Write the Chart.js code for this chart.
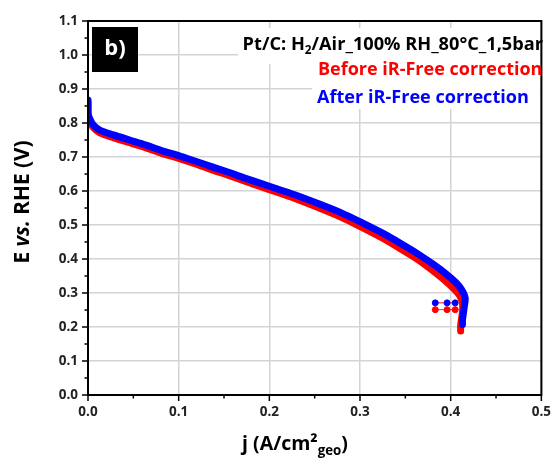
<!DOCTYPE html>
<html>
<head>
<meta charset="utf-8">
<script src="https://cdn.jsdelivr.net/npm/chart.js@4.4.0/dist/chart.umd.min.js"></script>
<style>
  body { margin: 0; background: #fff; }
  #wrap { width: 560px; height: 459px; }
</style>
</head>
<body>
<div id="wrap"><canvas id="myChart"></canvas></div>
<script>
// Pt/C H2/Air polarisation curve
const jAfter = [0, 0, 0.002, 0.006, 0.013, 0.028, 0.046, 0.064, 0.082, 0.1, 0.117, 0.137, 0.155, 0.173, 0.2, 0.228, 0.253, 0.28, 0.302, 0.325, 0.344, 0.365, 0.381, 0.395, 0.406, 0.412, 0.416, 0.415, 0.414, 0.413, 0.413];
const eAfter = [0.868, 0.83, 0.812, 0.794, 0.779, 0.765, 0.75, 0.735, 0.718, 0.704, 0.689, 0.671, 0.655, 0.638, 0.614, 0.589, 0.564, 0.535, 0.507, 0.476, 0.447, 0.413, 0.384, 0.356, 0.33, 0.31, 0.285, 0.26, 0.24, 0.22, 0.207];
const jBefore = [0, 0, 0.002, 0.006, 0.013, 0.028, 0.046, 0.064, 0.082, 0.1, 0.117, 0.137, 0.155, 0.173, 0.2, 0.228, 0.253, 0.28, 0.302, 0.325, 0.344, 0.365, 0.38, 0.393, 0.404, 0.41, 0.413, 0.413, 0.412, 0.411, 0.411];
const eBefore = [0.86, 0.822, 0.804, 0.786, 0.771, 0.757, 0.742, 0.727, 0.71, 0.696, 0.681, 0.662, 0.646, 0.629, 0.604, 0.578, 0.552, 0.522, 0.493, 0.461, 0.431, 0.396, 0.366, 0.338, 0.311, 0.292, 0.27, 0.245, 0.225, 0.205, 0.188];
// the short horizontal pieces near the end of the scan
const jStep = [0.383, 0.396, 0.405];
const eStepAfter = [0.271, 0.271, 0.271];
const eStepBefore = [0.251, 0.251, 0.251];

const xTicks = [0, 0.1, 0.2, 0.3, 0.4, 0.5];
const yTicks = [0, 0.1, 0.2, 0.3, 0.4, 0.5, 0.6, 0.7, 0.8, 0.9, 1.0, 1.1];

const BLUE = '#0000ff';
const RED = '#ff0000';
const FONT = '"Open Sans", "DejaVu Sans", sans-serif';

function toPoints(xs, ys) {
    return xs.map((x, i) => ({ x: x, y: ys[i] }));
}

// draws a row of text pieces (sub/superscripts, italics), sized to a target width
function drawParts(ctx, makeParts, size, x, y, align, target) {
    const measure = parts => {
        let w = 0;
        parts.forEach(p => { ctx.font = p.font; w += ctx.measureText(p.t).width; });
        return w;
    };
    let parts = makeParts(size);
    let total = measure(parts);
    if (target) {
        size = size * target / total;
        parts = makeParts(size);
        total = measure(parts);
    }
    let cx = align === 'right' ? x - total : (align === 'center' ? x - total / 2 : x);
    ctx.textAlign = 'left';
    ctx.textBaseline = 'middle';
    parts.forEach(p => {
        ctx.font = p.font;
        ctx.fillStyle = p.color || '#000';
        ctx.fillText(p.t, cx, y + (p.dy || 0));
        cx += ctx.measureText(p.t).width;
    });
}

const bold = s => 'bold ' + s.toFixed(1) + 'px ' + FONT;

const decor = {
    id: 'decor',
    beforeDraw(chart) {
        const ctx = chart.ctx;
        ctx.save();
        ctx.fillStyle = '#fff';
        ctx.fillRect(0, 0, chart.width, chart.height);
        ctx.restore();
    },
    afterDraw(chart) {
        const ctx = chart.ctx;
        const a = chart.chartArea;
        const x = chart.scales.x, y = chart.scales.y;
        ctx.save();

        // white patches behind the labels
        ctx.fillStyle = '#fff';
        ctx.fillRect(238, a.top + 7, a.right - 238 - 1, 36);
        ctx.fillRect(312, a.top + 38, a.right - 312 - 1, 50);

        // frame
        ctx.strokeStyle = '#000';
        ctx.lineWidth = 2;
        ctx.strokeRect(a.left, a.top, a.right - a.left, a.bottom - a.top);

        // ticks, major + minor, pointing out
        ctx.lineWidth = 1.5;
        for (let i = 0; i <= 10; i++) {
            const px = x.getPixelForValue(i * 0.05);
            const len = i % 2 === 0 ? 6 : 3.5;
            ctx.beginPath();
            ctx.moveTo(px, a.bottom);
            ctx.lineTo(px, a.bottom + len);
            ctx.stroke();
        }
        for (let i = 0; i <= 22; i++) {
            const py = y.getPixelForValue(i * 0.05);
            const len = i % 2 === 0 ? 6 : 3.5;
            ctx.beginPath();
            ctx.moveTo(a.left, py);
            ctx.lineTo(a.left - len, py);
            ctx.stroke();
        }

        // panel tag
        ctx.fillStyle = '#000';
        ctx.fillRect(92, 27, 46, 45);
        ctx.fillStyle = '#fff';
        ctx.font = 'bold 22px ' + FONT;
        ctx.textAlign = 'center';
        ctx.textBaseline = 'middle';
        ctx.fillText('b)', 115, 49);

        // conditions + legend text
        drawParts(ctx, s => [
            { t: 'Pt/C: H', font: bold(s) },
            { t: '2', font: bold(s * 0.65), dy: s * 0.3 },
            { t: '/Air_100% RH_80°C_1,5bar', font: bold(s) }
        ], 16, 543, 45, 'right', 301);
        drawParts(ctx, s => [{ t: 'Before iR-Free correction', font: bold(s), color: RED }], 16, 318, 70, 'left', 224);
        drawParts(ctx, s => [{ t: 'After iR-Free correction', font: bold(s), color: BLUE }], 16, 317, 98, 'left', 212);

        // axis titles
        drawParts(ctx, s => [
            { t: 'j (A/cm²', font: bold(s) },
            { t: 'geo', font: bold(s * 0.68), dy: s * 0.38 },
            { t: ')', font: bold(s) }
        ], 16, 295, 444, 'center', 106);

        ctx.translate(23, 202);
        ctx.rotate(-Math.PI / 2);
        drawParts(ctx, s => [
            { t: 'E ', font: bold(s) },
            { t: 'vs.', font: 'italic ' + bold(s) },
            { t: ' RHE (V)', font: bold(s) }
        ], 16, 0, 0, 'center', 123);
        ctx.restore();
    }
};

const lineStyle = { showLine: true, borderWidth: 7, pointRadius: 0, borderCapStyle: 'round', borderJoinStyle: 'round', tension: 0.3 };

const ctx = document.getElementById('myChart').getContext('2d');
new Chart(ctx, {
    type: 'scatter',
    data: {
        datasets: [
            Object.assign({
                label: 'After iR-Free correction',
                data: toPoints(jAfter, eAfter),
                borderColor: BLUE,
                order: 0
            }, lineStyle),
            Object.assign({
                label: 'Before iR-Free correction',
                data: toPoints(jBefore, eBefore),
                borderColor: RED,
                order: 1
            }, lineStyle),
            {
                label: 'after step',
                data: toPoints(jStep, eStepAfter),
                showLine: true,
                borderColor: RED,
                borderWidth: 1,
                pointRadius: 3,
                pointBackgroundColor: BLUE,
                pointBorderColor: BLUE,
                order: 2
            },
            {
                label: 'before step',
                data: toPoints(jStep, eStepBefore),
                showLine: true,
                borderColor: '#666',
                borderWidth: 1,
                pointRadius: 3,
                pointBackgroundColor: RED,
                pointBorderColor: RED,
                order: 3
            }
        ]
    },
    options: {
        responsive: true,
        maintainAspectRatio: false,
        animation: false,
        layout: { padding: { top: 21, right: 14, left: 0, bottom: 0 } },
        plugins: {
            legend: { display: false },
            tooltip: { enabled: false }
        },
        scales: {
            x: {
                type: 'linear',
                min: 0,
                max: 0.5,
                afterBuildTicks: s => { s.ticks = xTicks.map(v => ({ value: v })); },
                afterFit: s => { s.height = 64; },
                grid: { color: '#d4d4d4', lineWidth: 1.5, drawTicks: false },
                border: { display: false },
                ticks: {
                    padding: 9,
                    color: '#222',
                    font: { family: FONT, size: 13.5, weight: 'bold' },
                    callback: v => v.toFixed(1)
                }
            },
            y: {
                type: 'linear',
                min: 0,
                max: 1.1,
                afterBuildTicks: s => { s.ticks = yTicks.map(v => ({ value: v })); },
                afterFit: s => { s.width = 88; },
                grid: { color: '#d4d4d4', lineWidth: 1.5, drawTicks: false },
                border: { display: false },
                ticks: {
                    padding: 10,
                    color: '#222',
                    font: { family: FONT, size: 13.5, weight: 'bold' },
                    callback: v => v.toFixed(1)
                }
            }
        }
    },
    plugins: [decor]
});
</script>
</body>
</html>
